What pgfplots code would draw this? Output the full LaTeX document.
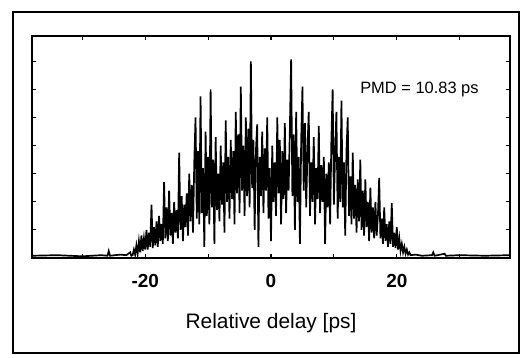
\documentclass[border=0pt]{standalone}
\usepackage{pgfplots}
\pgfplotsset{compat=1.18}
\usepackage{fontspec}
\setmainfont{Liberation Sans}
\pgfplotstableread{
x y
-38.0 0.08
-34.0 0.10
-30.0 0.06
-27.0 0.10
-26.0 0.08
-25.8 0.25
-25.6 0.08
-24.0 0.12
-23.0 0.10
-22.4 0.20
-22.2 0.08
-22.0 0.10
-21.8 0.30
-21.6 0.12
-21.4 0.45
-21.2 0.15
-21.0 0.60
-20.8 0.20
-20.6 0.80
-20.4 0.25
-20.2 0.70
-20.0 0.30
-19.8 1.00
-19.6 0.30
-19.4 0.90
-19.2 0.40
-19.0 1.90
-18.8 0.35
-18.6 1.10
-18.4 0.45
-18.2 1.30
-18.0 0.40
-17.8 1.50
-17.6 0.60
-17.4 1.20
-17.2 0.50
-17.0 2.70
-16.8 0.70
-16.6 1.80
-16.4 0.60
-16.2 2.40
-16.0 0.80
-15.8 1.60
-15.6 0.50
-15.4 2.00
-15.2 0.90
-15.0 1.70
-14.8 0.70
-14.6 3.75
-14.4 1.00
-14.2 2.20
-14.0 0.60
-13.8 1.90
-13.6 1.10
-13.4 2.30
-13.2 0.80
-13.0 3.00
-12.8 1.30
-12.6 2.60
-12.4 0.90
-12.2 3.40
-12.0 5.00
-11.8 1.40
-11.6 3.80
-11.4 1.20
-11.2 5.75
-11.0 1.60
-10.8 3.20
-10.6 0.40
-10.4 4.50
-10.2 1.50
-10.0 3.60
-9.8 1.20
-9.6 6.00
-9.4 1.80
-9.2 3.50
-9.0 0.50
-8.8 4.30
-8.6 1.70
-8.4 3.00
-8.2 1.30
-8.0 4.00
-7.8 1.90
-7.6 3.40
-7.4 0.90
-7.2 4.90
-7.0 2.00
-6.8 3.60
-6.6 1.40
-6.4 4.20
-6.2 2.10
-6.0 3.80
-5.8 1.20
-5.6 5.20
-5.4 2.30
-5.2 4.40
-5.0 1.60
-4.8 6.10
-4.6 2.40
-4.4 4.00
-4.2 1.50
-4.0 5.00
-3.8 2.20
-3.6 4.60
-3.4 1.80
-3.2 7.00
-3.0 2.50
-2.8 4.20
-2.6 1.00
-2.4 3.80
-2.2 4.75
-2.0 0.40
-1.8 3.60
-1.6 2.20
-1.4 4.50
-1.2 1.60
-1.0 3.90
-0.8 2.40
-0.6 5.00
-0.4 1.40
-0.2 3.20
0.0 0.60
0.2 4.00
0.4 2.00
0.6 3.40
0.8 1.50
1.0 5.00
1.2 2.30
1.4 4.20
1.6 1.20
1.8 3.80
2.0 2.10
2.2 4.80
2.4 1.60
2.6 3.50
2.8 2.40
3.0 4.60
3.2 7.07
3.4 2.20
3.6 4.40
3.8 1.00
4.0 5.20
4.2 2.00
4.4 3.60
4.6 0.50
4.8 4.20
5.0 6.10
5.2 2.40
5.4 4.80
5.6 1.80
5.8 3.90
6.0 5.20
6.2 1.50
6.4 3.40
6.6 2.00
6.8 4.30
7.0 1.20
7.2 3.20
7.4 2.10
7.6 4.70
7.8 1.60
8.0 3.30
8.2 2.00
8.4 3.60
8.6 0.50
8.8 3.00
9.0 1.80
9.2 3.40
9.4 1.20
9.6 4.20
9.8 6.00
10.0 1.90
10.2 3.80
10.4 5.20
10.6 1.40
10.8 3.60
11.0 2.00
11.2 5.60
11.4 1.80
11.6 3.40
11.8 0.80
12.0 3.80
12.2 5.00
12.4 1.50
12.6 2.90
12.8 1.20
13.0 3.75
13.2 1.40
13.4 2.60
13.6 0.90
13.8 2.80
14.0 1.30
14.2 3.50
14.4 1.00
14.6 2.40
14.8 0.80
15.0 2.80
15.2 1.10
15.4 2.00
15.6 0.60
15.8 2.50
16.0 0.90
16.2 1.80
16.4 0.70
16.6 2.00
16.8 0.80
17.0 1.50
17.2 2.85
17.4 0.70
17.6 1.40
17.8 0.50
18.0 1.80
18.2 0.60
18.4 1.20
18.6 0.40
18.8 1.30
19.0 0.50
19.2 1.95
19.4 0.40
19.6 0.90
19.8 0.35
20.0 1.10
20.2 0.30
20.4 0.70
20.6 0.25
20.8 0.50
21.0 0.20
21.2 0.40
21.4 0.15
21.6 0.30
21.8 0.12
22.0 0.20
22.2 0.10
23.0 0.12
24.0 0.08
25.6 0.10
25.8 0.20
26.0 0.08
27.6 0.15
27.8 0.08
30.0 0.10
34.0 0.08
38.0 0.10
}\signal
\begin{document}
\begin{tikzpicture}
\begin{axis}[
  name=ax,
  scale only axis,
  width=478bp, height=222bp,
  xmin=-38, xmax=38, ymin=0, ymax=7.9,
  axis line style={line width=1.3pt},
  tick style={line width=1.1pt, black},
  major tick length=4bp,
  tick align=inside,
  xtick={-30,-20,-10,0,10,20,30},
  xticklabels={,-20,,0,,20,},
  ytick={1,2,3,4,5,6,7},
  yticklabels={},
  xticklabel style={font=\fontsize{19}{20}\selectfont\bfseries, yshift=-13bp},
  xlabel={Relative delay [ps]},
  xlabel style={font=\fontsize{21}{23}\selectfont, at={(axis description cs:0.5,0)}, anchor=center, yshift=-65bp},
]
\addplot[black, line width=1.7pt, line join=miter, sharp plot, no markers] table[x=x, y=y] {\signal};
\node[font=\fontsize{16.5}{18}\selectfont] at (axis cs:23.6,6.0) {PMD = 10.83 ps};
\end{axis}
\draw[line width=1.8pt] ([shift={(-19bp,-95bp)}]ax.south west) rectangle ([shift={(9bp,24bp)}]ax.north east);
\path ([shift={(-32bp,-100bp)}]ax.south west) rectangle ([shift={(12bp,36bp)}]ax.north east);
\end{tikzpicture}
\end{document}
